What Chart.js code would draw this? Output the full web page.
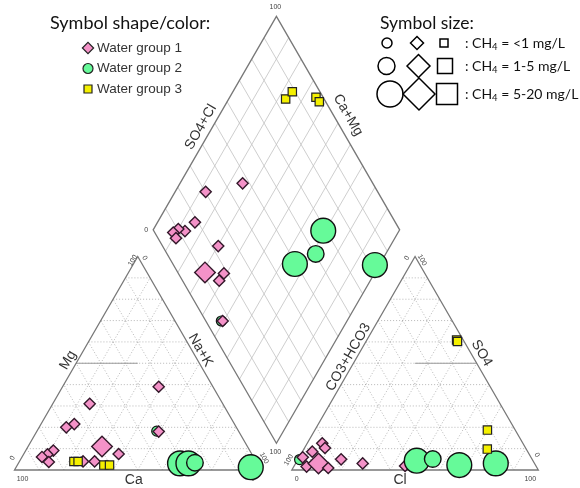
<!DOCTYPE html>
<html>
<head>
<meta charset="utf-8">
<script src="https://cdn.jsdelivr.net/npm/chart.js@4/dist/chart.umd.min.js"></script>
<style>
  html, body { margin: 0; padding: 0; background: #fff; }
  canvas { display: block; }
</style>
</head>
<body>
<canvas id="piper" width="580" height="488"></canvas>
<script>
// ---- Sample data (percent of meq/L) ----
// Cation triangle: [Ca, Mg]   (Na+K = 100 - Ca - Mg)
const cationGroup1 = [[22,39],[54,31],[65,21.5],[69,20],[32.5,18],[59,11],[54,7.5],[65.5,4],[79.7,9.1],[83,7.3],[85.8,6.1],[84.2,3.75],[70.2,4]];
const cationGroup2 = [[31.3,3.1],[27.9,3.1],[25.1,3.4],[3.5,1.3]];
const cationGroup2b = [[33.2,18.2]];
const cationGroup3 = [[73.9,4],[72.2,4],[62.6,2.3],[60.3,2.3]];

// Anion triangle: [Cl, SO4]   (CO3+HCO3 = 100 - Cl - SO4)
const anionGroup1 = [[6.1,12.5],[8.3,10.3],[4.0,8.6],[1.45,5.95],[5.2,1.6],[9.3,3.05],[14.3,0.94],[17.5,5.0],[27.2,3.1],[45.0,1.9]];
const anionGroup2 = [[48.5,4.35],[54.6,5.15],[66.8,2.3],[81.2,3.1]];
const anionGroup2b = [[0.7,4.9]];
const anionGroup3 = [[36.4,60.9],[37.1,60.2],[70.0,18.7],[74.4,9.8]];

// Diamond: [SO4+Cl, Ca+Mg]
const diamondGroup1 = [[47.2,74.6],[30.2,87.6],[18.7,84.8],[12.6,86.8],[10.4,90],[7.5,91.2],[7.3,88.8],[22.6,69.8],[11.05,69],[18.5,61.1],[14.9,61.3],[6.85,50.45]];
const diamondGroup2 = [[49.5,34.5],[60.3,28.4],[68.8,30.8],[81.7,1.8]];
const diamondGroup2b = [[6.3,51.0]];
const diamondGroup3 = [[84.4,76.9],[88.8,75.9],[97.1,65],[97.4,62.6]];

// CH4 class of each marker: 0 = <1 mg/L, 1 = 1-5 mg/L, 2 = 5-20 mg/L
const cationGroup1Ch4 = [0,0,0,0,0,1,0,0,0,0,0,0,0];
const cationGroup2Ch4 = [2,2,1,2];
const anionGroup1Ch4  = [0,0,0,0,0,1,0,0,0,0];
const anionGroup2Ch4  = [2,1,2,2];
const diamondGroup1Ch4 = [0,0,0,0,0,0,0,0,1,0,0,0];
const diamondGroup2Ch4 = [2,1,2,2];

const groupLabels = ['Water group 1', 'Water group 2', 'Water group 3'];
const ch4Labels = ['<1 mg/L', '1-5 mg/L', '5-20 mg/L'];
const tickLabels = ['0', '100'];

// ---- Geometry (edge length of each triangle = 100 units) ----
const H = Math.sqrt(3) / 2;
const GAP = 12.5;
const RX0 = 100 + GAP;                 // left corner of the anion triangle
const DB = { x: 100 + GAP / 2, y: GAP * H };   // bottom vertex of the diamond
const DL = { x: DB.x - 50, y: DB.y + 100 * H }; // left vertex of the diamond

function cat(ca, mg) { const nak = 100 - ca - mg; return { x: nak + mg / 2, y: mg * H }; }
function an(cl, so4) { return { x: RX0 + cl + so4 / 2, y: so4 * H }; }
function dia(a, camg) { const n = 100 - camg; return { x: DL.x + (a + n) / 2, y: DL.y + (a - n) * H }; }

// marker sizes per CH4 class
const circleR = [5, 8.3, 12.4];
const diamondR = [5.6, 10.3, 16];
const squareR = [5.9, 10.6, 14.8];   // 'rect' half side = r * sqrt(1/2)

const PINK = '#f492c8', GREEN = '#66fa99', YELLOW = '#f4f000';

function series(list, f) { return list.map(p => f(p[0], p[1])); }

const g1 = [].concat(series(cationGroup1, cat), series(anionGroup1, an), series(diamondGroup1, dia));
const g1c = [].concat(cationGroup1Ch4, anionGroup1Ch4, diamondGroup1Ch4);
const g2 = [].concat(series(cationGroup2, cat), series(anionGroup2, an), series(diamondGroup2, dia));
const g2c = [].concat(cationGroup2Ch4, anionGroup2Ch4, diamondGroup2Ch4);
const g2b = [].concat(series(cationGroup2b, cat), series(anionGroup2b, an), series(diamondGroup2b, dia));
const g3 = [].concat(series(cationGroup3, cat), series(anionGroup3, an), series(diamondGroup3, dia));

// pixel scale: 2.465 px per unit, left corner of cation triangle at (14.5, 470)
const PX = 2.465;
const xMin = -14.5 / PX, xMax = xMin + 580 / PX;
const yMax = 470 / PX, yMin = yMax - 488 / PX;

const piperFrame = {
  id: 'piperFrame',
  beforeDraw(chart) {
    const c = chart.ctx;
    c.save(); c.fillStyle = '#fff'; c.fillRect(0, 0, chart.width, chart.height); c.restore();
  },
  beforeDatasetsDraw(chart) {
    const c = chart.ctx, xs = chart.scales.x, ys = chart.scales.y;
    const P = p => [xs.getPixelForValue(p.x), ys.getPixelForValue(p.y)];
    function seg(a, b) { const A = P(a), B = P(b); c.beginPath(); c.moveTo(A[0], A[1]); c.lineTo(B[0], B[1]); c.stroke(); }
    function poly(pts) { c.beginPath(); pts.forEach((p, i) => { const q = P(p); i ? c.lineTo(q[0], q[1]) : c.moveTo(q[0], q[1]); }); c.closePath(); c.stroke(); }

    c.save();
    // triangle grids (dotted, every 10 %)
    c.strokeStyle = '#9a9a9a'; c.lineWidth = 0.7; c.setLineDash([1, 2]);
    for (let i = 10; i < 100; i += 10) {
      seg(cat(100 - i, i), cat(0, i));
      seg(cat(i, 0), cat(i, 100 - i));
      seg(cat(100 - i, 0), cat(0, 100 - i));
      seg(an(0, i), an(100 - i, i));
      seg(an(i, 0), an(i, 100 - i));
      seg(an(0, 100 - i), an(100 - i, 0));
    }
    c.setLineDash([]);
    // diamond grid
    c.strokeStyle = '#c2c2c2'; c.lineWidth = 0.8;
    for (let i = 10; i < 100; i += 10) {
      seg(dia(i, 100), dia(i, 0));
      seg(dia(0, i), dia(100, i));
    }
    // 50 % division segments
    c.strokeStyle = '#9a9a9a'; c.lineWidth = 1;
    seg(cat(50, 50), cat(25, 50));
    seg(an(25, 50), an(50, 50));
    // outlines
    c.strokeStyle = '#787878'; c.lineWidth = 1.3;
    poly([cat(100, 0), cat(0, 0), cat(0, 100)]);
    poly([an(0, 0), an(100, 0), an(0, 100)]);
    poly([dia(0, 100), dia(100, 100), dia(100, 0), dia(0, 0)]);

    // axis titles
    function txt(s, p, dx, dy, rot, font, color) {
      const q = P(p);
      c.save(); c.translate(q[0] + dx, q[1] + dy); c.rotate(rot * Math.PI / 180);
      c.font = font; c.fillStyle = color; c.textAlign = 'center'; c.textBaseline = 'middle';
      c.fillText(s, 0, 0); c.restore();
    }
    const TF = '14px "Liberation Sans", Arial, sans-serif', TC = '#333';
    txt('Ca', cat(50, 0), -4, 10, 0, TF, TC);
    txt('Mg', cat(50, 50), -8, -3, -60, TF, TC);
    txt('Na+K', cat(0, 50), 1, -13, 60, TF, TC);
    txt('Cl', an(50, 0), -15, 10, 0, TF, TC);
    txt('SO4', an(50, 50), 5, -10, 60, TF, TC);
    txt('CO3+HCO3', an(0, 50), -5, -6, -60, TF, TC);
    txt('SO4+Cl', dia(50, 100), -14, 4, -60, TF, TC);
    txt('Ca+Mg', dia(100, 50), 10, -8, 60, TF, TC);

    // vertex tick labels
    const SF = '7px "Liberation Sans", Arial, sans-serif', SC = '#444';
    txt(tickLabels[1], cat(100, 0), 8, 9, 0, SF, SC);
    txt(tickLabels[0], cat(100, 0), -2, -12, -60, SF, SC);
    txt(tickLabels[1], cat(0, 100), -5, 4, -60, SF, SC);
    txt(tickLabels[0], cat(0, 100), 7, 1.5, 60, SF, SC);
    txt(tickLabels[1], cat(0, 0), 3, -12, 60, SF, SC);
    txt(tickLabels[0], cat(0, 0), -8, 9, 0, SF, SC);
    txt(tickLabels[0], an(0, 0), 5, 9, 0, SF, SC);
    txt(tickLabels[1], an(0, 0), -3, -10, -60, SF, SC);
    txt(tickLabels[0], an(0, 100), -8, 1.5, -60, SF, SC);
    txt(tickLabels[1], an(0, 100), 7, 3.5, 60, SF, SC);
    txt(tickLabels[1], an(100, 0), -8, 9, 0, SF, SC);
    txt(tickLabels[0], an(100, 0), -1.5, -15, 60, SF, SC);
    txt(tickLabels[1], dia(100, 100), -1, -9, 0, SF, SC);
    txt(tickLabels[0], dia(0, 100), -7, 0, 0, SF, SC);
    txt(tickLabels[1], dia(0, 0), -1, 9, 0, SF, SC);
    c.restore();
  },
  afterDatasetsDraw(chart) {
    const c = chart.ctx;
    c.save();
    function diamond(x, y, r) { c.beginPath(); c.moveTo(x - r, y); c.lineTo(x, y - r); c.lineTo(x + r, y); c.lineTo(x, y + r); c.closePath(); }
    function circle(x, y, r) { c.beginPath(); c.arc(x, y, r, 0, Math.PI * 2); }
    function square(x, y, h) { c.beginPath(); c.rect(x - h, y - h, 2 * h, 2 * h); }

    // shape / colour legend
    c.font = '18px Lato, "Noto Sans", sans-serif'; c.fillStyle = '#111'; c.textBaseline = 'middle'; c.textAlign = 'left';
    c.fillText('Symbol shape/color:', 50, 23);
    c.lineWidth = 1.2; c.strokeStyle = '#222';
    diamond(88, 48, 5.6); c.fillStyle = PINK; c.fill(); c.stroke();
    circle(88, 68.5, 5); c.fillStyle = GREEN; c.fill(); c.stroke();
    square(88, 89, 4); c.fillStyle = YELLOW; c.fill(); c.stroke();
    c.font = '13.5px "Liberation Sans", Arial, sans-serif'; c.fillStyle = '#333';
    [48, 68.5, 89].forEach((y, i) => c.fillText(groupLabels[i], 97, y));

    // size legend
    c.font = '17.5px Lato, "Noto Sans", sans-serif'; c.fillStyle = '#111';
    c.fillText('Symbol size:', 380, 23);
    c.strokeStyle = '#000'; c.lineWidth = 1.5;
    const rows = [
      { y: 43, cx: 387, cr: 5, dx: 417, dr: 6.5, sx: 444, sh: 4 },
      { y: 66, cx: 386.5, cr: 8.5, dx: 418.5, dr: 11.5, sx: 445, sh: 7.5 },
      { y: 94, cx: 390, cr: 13, dx: 419, dr: 16, sx: 447, sh: 10.5 }
    ];
    rows.forEach((r, i) => {
      circle(r.cx, r.y, r.cr); c.stroke();
      diamond(r.dx, r.y, r.dr); c.stroke();
      square(r.sx, r.y, r.sh); c.stroke();
      let x = 465;
      c.font = '14px Lato, "Noto Sans", sans-serif'; c.fillStyle = '#111';
      c.fillText(': CH', x, r.y); x += c.measureText(': CH').width;
      c.font = '9.5px Lato, "Noto Sans", sans-serif';
      c.fillText('4', x, r.y + 3.5); x += c.measureText('4').width;
      c.font = '14px Lato, "Noto Sans", sans-serif';
      c.fillText(' = ' + ch4Labels[i], x, r.y);
    });
    c.restore();
  }
};

new Chart(document.getElementById('piper'), {
  type: 'scatter',
  data: {
    datasets: [
      { label: groupLabels[2], data: g3, order: 1, pointStyle: 'rect', pointRadius: squareR[0],
        backgroundColor: YELLOW, borderColor: '#222', borderWidth: 1.2 },
      { label: groupLabels[1], data: g2, order: 2, pointStyle: 'circle',
        pointRadius: ctx => circleR[g2c[ctx.dataIndex]],
        backgroundColor: GREEN, borderColor: '#111', borderWidth: 1.4 },
      { label: groupLabels[0], data: g1, order: 3, pointStyle: 'rectRot',
        pointRadius: ctx => diamondR[g1c[ctx.dataIndex]],
        backgroundColor: PINK, borderColor: '#33182a', borderWidth: 1.4 },
      { label: groupLabels[1], data: g2b, order: 4, pointStyle: 'circle', pointRadius: circleR[0],
        backgroundColor: GREEN, borderColor: '#111', borderWidth: 1.2 }
    ]
  },
  options: {
    responsive: false,
    animation: false,
    events: [],
    layout: { padding: 0, autoPadding: false },
    plugins: { legend: { display: false }, tooltip: { enabled: false }, title: { display: false } },
    elements: { point: { hoverRadius: 0 } },
    scales: {
      x: { type: 'linear', display: false, min: xMin, max: xMax, bounds: 'data' },
      y: { type: 'linear', display: false, min: yMin, max: yMax, bounds: 'data' }
    }
  },
  plugins: [piperFrame]
});
</script>
</body>
</html>
